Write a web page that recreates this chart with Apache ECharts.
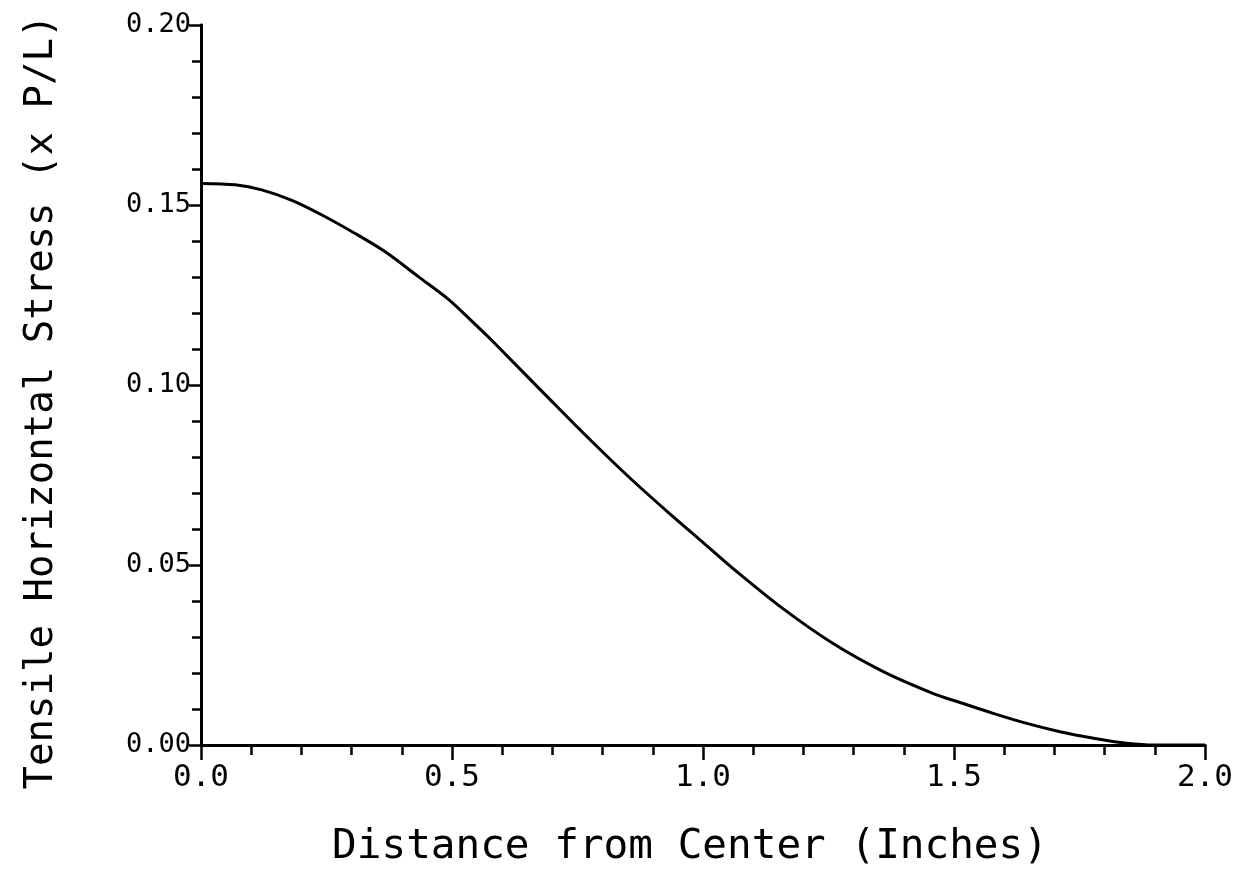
<!DOCTYPE html>
<html>
<head>
<meta charset="utf-8">
<title>Tensile Horizontal Stress vs Distance from Center</title>
<script src="https://cdn.jsdelivr.net/npm/echarts@6/dist/echarts.min.js"></script>
<style>
  html, body { margin: 0; padding: 0; background: #fff; }
  #chart { width: 1235px; height: 885px; }
</style>
</head>
<body>
<div id="chart"></div>
<script>
// Distance from the center (inches)
const distance = [0.0, 0.068, 0.121, 0.181, 0.240, 0.307, 0.367, 0.433, 0.493, 0.539,
  0.582, 0.695, 0.762, 0.848, 0.934, 0.994, 1.060, 1.160, 1.260, 1.359,
  1.459, 1.512, 1.578, 1.645, 1.711, 1.778, 1.844, 1.900, 2.000];
// Tensile horizontal stress (x P/L)
const stress = [0.1560, 0.1556, 0.1542, 0.1513, 0.1473, 0.1421, 0.1370, 0.1301, 0.1238, 0.1178,
  0.1120, 0.0960, 0.0866, 0.0750, 0.0642, 0.0570, 0.0490, 0.0378, 0.0281, 0.0204,
  0.0143, 0.0118, 0.0088, 0.0060, 0.0037, 0.0019, 0.0005, 0.0000, 0.0000];

const xTitle = 'Distance from Center (Inches)';
const yTitle = 'Tensile Horizontal Stress (x P/L)';

const FONT = 'DejaVu Sans Mono';
const INK = '#000';

const points = distance.map((d, i) => [d, stress[i]]);

const lineStyle = { color: INK, width: 3 };

const chart = echarts.init(document.getElementById('chart'), null, { renderer: 'canvas' });
chart.setOption({
  backgroundColor: '#fff',
  animation: false,
  grid: { left: 201, right: 30, top: 25, bottom: 140, containLabel: false, outerBoundsMode: 'none' },
  xAxis: [
    {
      type: 'value', position: 'bottom', min: 0, max: 2, interval: 0.5,
      axisLine: { show: true, lineStyle },
      axisTick: { show: true, inside: false, length: 15, lineStyle: { color: INK, width: 2.5 } },
      minorTick: { show: true, splitNumber: 5, length: 9, lineStyle: { color: INK, width: 2.5 } },
      splitLine: { show: false },
      axisLabel: {
        show: true, margin: 17, color: INK, fontFamily: FONT, fontSize: 31,
        formatter: v => v.toFixed(1)
      },
      name: xTitle, nameLocation: 'middle', nameGap: 82,
      nameTextStyle: { color: INK, fontFamily: FONT, fontSize: 41, padding: [0, 26, 0, 0] }
    },
    {
      type: 'value', position: 'top', min: 0, max: 2, interval: 0.5,
      axisLine: { show: true, lineStyle },
      axisTick: { show: true, inside: true, length: 10, lineStyle: { color: INK, width: 2.5 } },
      minorTick: { show: true, splitNumber: 5, length: 10, lineStyle: { color: INK, width: 2.5 } },
      splitLine: { show: false },
      axisLabel: { show: false }
    }
  ],
  yAxis: [
    {
      type: 'value', position: 'left', min: 0, max: 0.2, interval: 0.05,
      axisLine: { show: true, lineStyle },
      axisTick: { show: true, inside: false, length: 11, lineStyle: { color: INK, width: 2.5 } },
      minorTick: { show: true, splitNumber: 5, length: 8, lineStyle: { color: INK, width: 2.5 } },
      splitLine: { show: false },
      axisLabel: {
        show: true, margin: 10, color: INK, fontFamily: FONT, fontSize: 27,
        formatter: v => v.toFixed(2)
      },
      name: yTitle, nameLocation: 'middle', nameGap: 140,
      nameTextStyle: { color: INK, fontFamily: FONT, fontSize: 39, padding: [0, 34, 0, 0] }
    },
    {
      type: 'value', position: 'right', min: 0, max: 0.2, interval: 0.05,
      axisLine: { show: true, lineStyle },
      axisTick: { show: true, inside: true, length: 12, lineStyle: { color: INK, width: 2.5 } },
      minorTick: { show: true, splitNumber: 5, length: 9, lineStyle: { color: INK, width: 2.5 } },
      splitLine: { show: false },
      axisLabel: { show: false }
    }
  ],
  series: [
    {
      type: 'line',
      xAxisIndex: 0,
      yAxisIndex: 0,
      data: points,
      smooth: 0.3,
      showSymbol: false,
      lineStyle: { color: INK, width: 3 },
      z: 1
    }
  ]
});
</script>
</body>
</html>
